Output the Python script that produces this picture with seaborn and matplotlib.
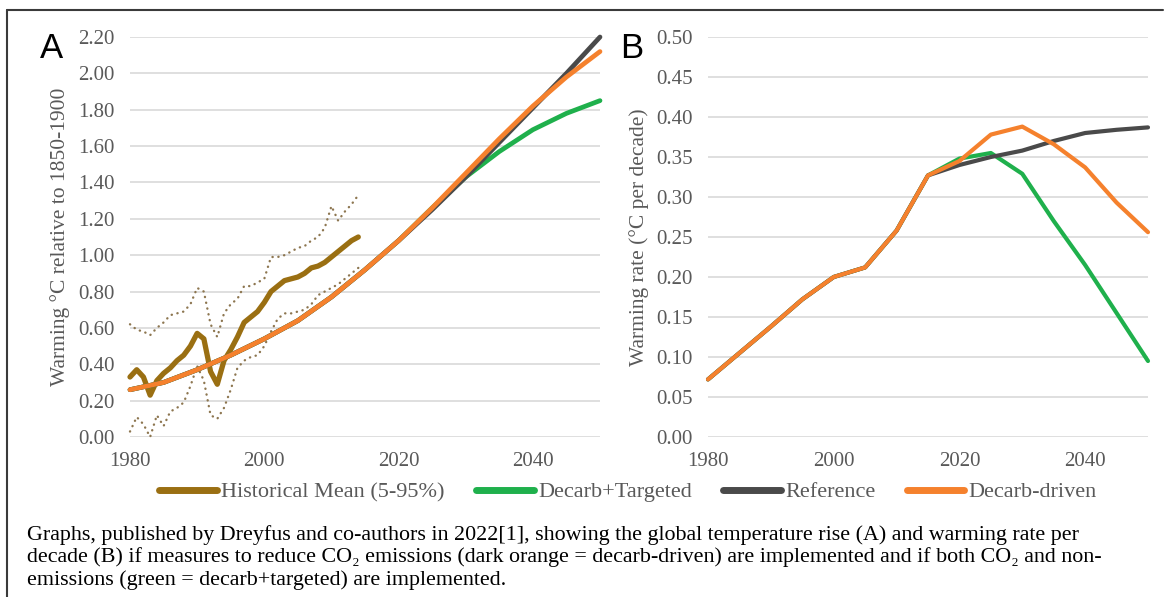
import matplotlib
matplotlib.use('Agg')  # no display
import matplotlib.pyplot as plt
from matplotlib.lines import Line2D
import seaborn as sns
import pandas as pd

# ---- data ----
hist_years = list(range(1980, 2015))
hist_mean = [0.33, 0.37, 0.33, 0.23, 0.31, 0.35, 0.38, 0.42, 0.45, 0.50,
             0.57, 0.54, 0.36, 0.29, 0.42, 0.48, 0.55, 0.63, 0.66, 0.69,
             0.74, 0.80, 0.83, 0.86, 0.87, 0.88, 0.90, 0.93, 0.94, 0.96,
             0.99, 1.02, 1.05, 1.08, 1.10]
hist_upper = [0.62, 0.59, 0.58, 0.56, 0.60, 0.63, 0.67, 0.68, 0.69, 0.73,
              0.82, 0.80, 0.62, 0.55, 0.68, 0.73, 0.76, 0.83, 0.83, 0.85,
              0.87, 0.99, 0.99, 1.00, 1.02, 1.04, 1.05, 1.08, 1.10, 1.15,
              1.27, 1.19, 1.24, 1.28, 1.33]
hist_lower = [0.03, 0.11, 0.07, 0.00, 0.12, 0.06, 0.14, 0.16, 0.19, 0.28,
              0.39, 0.31, 0.12, 0.10, 0.16, 0.26, 0.38, 0.42, 0.44, 0.45,
              0.50, 0.58, 0.65, 0.68, 0.68, 0.69, 0.70, 0.73, 0.78, 0.80,
              0.82, 0.84, 0.87, 0.90, 0.93]

model_years = [1980, 1985, 1990, 1995, 2000, 2005, 2010, 2015,
               2020, 2025, 2030, 2035, 2040, 2045, 2050]
temp_decarb_targeted = [0.26, 0.30, 0.37, 0.45, 0.54, 0.64, 0.77, 0.92,
                        1.08, 1.26, 1.43, 1.57, 1.69, 1.78, 1.85]
temp_reference = [0.26, 0.30, 0.37, 0.45, 0.54, 0.64, 0.77, 0.92,
                  1.08, 1.25, 1.43, 1.62, 1.81, 2.00, 2.20]
temp_decarb_driven = [0.26, 0.30, 0.37, 0.45, 0.54, 0.64, 0.77, 0.92,
                      1.08, 1.26, 1.45, 1.64, 1.82, 1.98, 2.12]

rate_decarb_targeted = [0.072, 0.105, 0.138, 0.172, 0.200, 0.212, 0.258, 0.327,
                        0.348, 0.355, 0.329, 0.270, 0.215, 0.155, 0.095]
rate_reference = [0.072, 0.105, 0.138, 0.172, 0.200, 0.212, 0.258, 0.327,
                  0.340, 0.350, 0.358, 0.370, 0.380, 0.384, 0.387]
rate_decarb_driven = [0.072, 0.105, 0.138, 0.172, 0.200, 0.212, 0.258, 0.327,
                      0.345, 0.378, 0.388, 0.366, 0.337, 0.293, 0.256]

x_ticks = [1980, 2000, 2020, 2040]
temp_ticks = [0.0, 0.2, 0.4, 0.6, 0.8, 1.0, 1.2, 1.4, 1.6, 1.8, 2.0, 2.2]
rate_ticks = [0.0, 0.05, 0.10, 0.15, 0.20, 0.25, 0.30, 0.35, 0.40, 0.45, 0.50]

series_labels = ['Historical Mean (5-95%)', 'Decarb+Targeted', 'Reference', 'Decarb-driven']

caption_lines = [
    'Graphs, published by Dreyfus and co-authors in 2022[1], showing the global temperature rise (A) and warming rate per',
    'decade (B) if measures to reduce CO\u2082 emissions (dark orange = decarb-driven) are implemented and if both CO\u2082 and non-',
    'emissions (green = decarb+targeted) are implemented.',
]

# ---- style ----
BROWN = '#9a6f12'
DOTS = '#8d7650'
GREEN = '#1fb04c'
GREY = '#4a4a4a'
ORANGE = '#f5812d'
TXT = '#595959'

sns.set_theme(style='white')
plt.rcParams['font.family'] = ['Liberation Serif', 'DejaVu Serif']

W, H = 1168, 597
fig = plt.figure(figsize=(W / 100, H / 100), dpi=100)
fig.patch.set_facecolor('white')

ax_a = fig.add_axes([130 / W, 1 - 437 / H, 470 / W, 400 / H])
ax_b = fig.add_axes([708 / W, 1 - 437 / H, 440 / W, 400 / H])

temp_df = pd.DataFrame({'year': model_years, 'targeted': temp_decarb_targeted,
                        'reference': temp_reference, 'driven': temp_decarb_driven})
rate_df = pd.DataFrame({'year': model_years, 'targeted': rate_decarb_targeted,
                        'reference': rate_reference, 'driven': rate_decarb_driven})
hist_df = pd.DataFrame({'year': hist_years, 'mean': hist_mean,
                        'upper': hist_upper, 'lower': hist_lower})

# panel A
for col in ['upper', 'lower']:
    sns.lineplot(data=hist_df, x='year', y=col, ax=ax_a, color=DOTS, linewidth=1.7,
                 linestyle=(0, (0.1, 2.4)), dash_capstyle='round', clip_on=False)
sns.lineplot(data=hist_df, x='year', y='mean', ax=ax_a, color=BROWN, linewidth=3.8,
             solid_capstyle='round', solid_joinstyle='round', clip_on=False)
for col, c in [('targeted', GREEN), ('reference', GREY), ('driven', ORANGE)]:
    sns.lineplot(data=temp_df, x='year', y=col, ax=ax_a, color=c, linewidth=3.4,
                 clip_on=False)

# panel B
for col, c in [('targeted', GREEN), ('reference', GREY), ('driven', ORANGE)]:
    sns.lineplot(data=rate_df, x='year', y=col, ax=ax_b, color=c, linewidth=3.0,
                 clip_on=False)

ax_a.set_ylim(0, 2.2)
ax_a.set_yticks(temp_ticks)
ax_a.set_yticklabels([f'{t:.2f}' for t in temp_ticks])
ax_a.set_ylabel('Warming \u00b0C relative to 1850-1900', fontsize=15.5, color=TXT)
ax_a.yaxis.set_label_coords(-0.128, 0.5)

ax_b.set_ylim(0, 0.5)
ax_b.set_yticks(rate_ticks)
ax_b.set_yticklabels([f'{t:.2f}' for t in rate_ticks])
ax_b.set_ylabel('Warming rate (\u00b0C per decade)', fontsize=15.5, color=TXT)
ax_b.yaxis.set_label_coords(-0.135, 0.5)

for ax in (ax_a, ax_b):
    ax.set_xlim(1980, 2050)
    ax.set_xticks(x_ticks)
    ax.set_xlabel('')
    ax.grid(axis='y', color='#d9d9d9', linewidth=1.2)
    ax.grid(axis='x', visible=False)
    ax.set_axisbelow(True)
    for s in ax.spines.values():
        s.set_visible(False)
    ax.tick_params(length=0, labelcolor=TXT, labelsize=15, pad=11)
    ax.set_facecolor('none')

fig.text(52 / W, 1 - 48 / H, 'A', family='Liberation Sans', fontsize=25,
         ha='center', va='center', color='black')
fig.text(632 / W, 1 - 48 / H, 'B', family='Liberation Sans', fontsize=25,
         ha='center', va='center', color='black')

handles = [Line2D([], [], color=c, linewidth=5, solid_capstyle='round')
           for c in [BROWN, GREEN, GREY, ORANGE]]
fig.legend(handles, series_labels, loc='center', bbox_to_anchor=(628 / W, 1 - 492 / H),
           ncol=4, frameon=False, handlelength=2.6, handletextpad=0.2,
           columnspacing=1.4, prop={'size': 16}, labelcolor=TXT)

for i, line in enumerate(caption_lines):
    fig.text(27 / W, 1 - (535 + i * 22.5) / H, line, fontsize=15.8, color='black',
             ha='left', va='center')

# outer frame: top and left edges
fig.add_artist(Line2D([7 / W, 1163 / W], [1 - 10 / H, 1 - 10 / H], color='#3a3a3a',
                      linewidth=1.5, transform=fig.transFigure))
fig.add_artist(Line2D([7 / W, 7 / W], [1 - 10 / H, 0], color='#3a3a3a',
                      linewidth=1.5, transform=fig.transFigure))

fig.savefig('out.png', dpi=100, facecolor='white')
plt.close(fig)
